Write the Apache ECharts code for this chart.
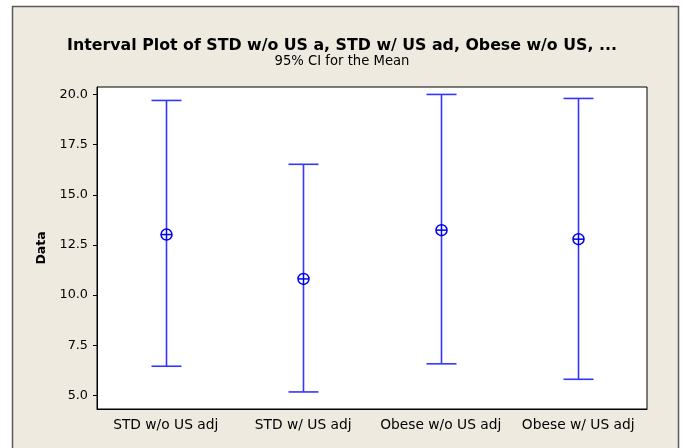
<!DOCTYPE html>
<html>
<head>
<meta charset="utf-8">
<script src="https://cdn.jsdelivr.net/npm/echarts@6/dist/echarts.min.js"></script>
<style>
  html, body { margin: 0; padding: 0; background: #fff; }
  #chart { width: 684px; height: 448px; }
</style>
</head>
<body>
<div id="chart"></div>
<script>
// categories and 95% CI values
const categories = ['STD w/o US adj', 'STD w/ US adj', 'Obese w/o US adj', 'Obese w/ US adj']
const means = [13.02, 10.81, 13.24, 12.79]
const lower = [6.46, 5.18, 6.58, 5.81]
const upper = [19.70, 16.52, 20.00, 19.80]
const yTicks = [5, 7.5, 10, 12.5, 15, 17.5, 20]

const FONT = 'DejaVu Sans'
const BLUE = '#3535ff'
const MARK = '#0000f0'

const seriesData = categories.map((c, i) => [i, lower[i], upper[i], means[i]])

const myChart = echarts.init(document.getElementById('chart'))
myChart.setOption({
  animation: false,
  backgroundColor: '#ffffff',
  graphic: [
    {
      // beige panel with dark frame
      type: 'rect',
      z: -10,
      shape: { x: 12.5, y: 6.5, width: 666, height: 460 },
      style: { fill: '#eeeae0', stroke: '#5a5a5a', lineWidth: 1.5 }
    }
  ],
  title: {
    text: 'Interval Plot of STD w/o US a, STD w/ US ad, Obese w/o US, ...',
    subtext: '95% CI for the Mean',
    left: 'center',
    top: 33,
    itemGap: 1,
    textStyle: { fontFamily: FONT, fontWeight: 'bold', fontSize: 15.8, color: '#000' },
    subtextStyle: { fontFamily: FONT, fontSize: 13.2, color: '#000' }
  },
  grid: {
    left: 97,
    top: 87,
    right: 37,
    bottom: 39,
    show: true,
    backgroundColor: '#ffffff',
    borderColor: '#000',
    borderWidth: 1
  },
  xAxis: {
    type: 'category',
    data: categories,
    boundaryGap: true,
    axisLine: { lineStyle: { color: '#000' } },
    axisTick: { alignWithLabel: true, interval: 0, length: 4, lineStyle: { color: '#000' } },
    axisLabel: {
      fontFamily: FONT,
      fontSize: 13.8,
      color: '#000',
      margin: 9,
      interval: 0,
      hideOverlap: false
    },
    splitLine: { show: false }
  },
  yAxis: {
    type: 'value',
    min: 4.33,
    max: 20.37,
    name: 'Data',
    nameLocation: 'middle',
    nameGap: 46,
    nameTextStyle: { fontFamily: FONT, fontWeight: 'bold', fontSize: 12.5, color: '#000' },
    axisLine: { show: true, lineStyle: { color: '#000' } },
    axisTick: { show: true, length: 4, customValues: yTicks, lineStyle: { color: '#000' } },
    axisLabel: {
      fontFamily: FONT,
      fontSize: 12.8,
      color: '#000',
      margin: 9,
      customValues: yTicks,
      formatter: v => v.toFixed(1)
    },
    splitLine: { show: false }
  },
  series: [
    {
      type: 'custom',
      data: seriesData,
      encode: { x: 0, y: [1, 2, 3] },
      renderItem: function (params, api) {
        const idx = api.value(0)
        const lo = api.coord([idx, api.value(1)])
        const hi = api.coord([idx, api.value(2)])
        const mid = api.coord([idx, api.value(3)])
        const x = Math.round(lo[0]) + 0.5
        const capW = 15
        const r = 5.5
        const ls = { stroke: BLUE, lineWidth: 1.6, fill: null }
        const ms = { stroke: MARK, lineWidth: 1.5, fill: null }
        return {
          type: 'group',
          children: [
            { type: 'line', shape: { x1: x, y1: hi[1], x2: x, y2: mid[1] - r }, style: ls },
            { type: 'line', shape: { x1: x, y1: mid[1] + r, x2: x, y2: lo[1] }, style: ls },
            { type: 'line', shape: { x1: x - capW, y1: hi[1], x2: x + capW, y2: hi[1] }, style: ls },
            { type: 'line', shape: { x1: x - capW, y1: lo[1], x2: x + capW, y2: lo[1] }, style: ls },
            { type: 'circle', shape: { cx: x, cy: mid[1], r: r }, style: ms },
            { type: 'line', shape: { x1: x - r, y1: mid[1], x2: x + r, y2: mid[1] }, style: ms },
            { type: 'line', shape: { x1: x, y1: mid[1] - r, x2: x, y2: mid[1] + r }, style: ms }
          ]
        }
      }
    }
  ]
})
</script>
</body>
</html>
